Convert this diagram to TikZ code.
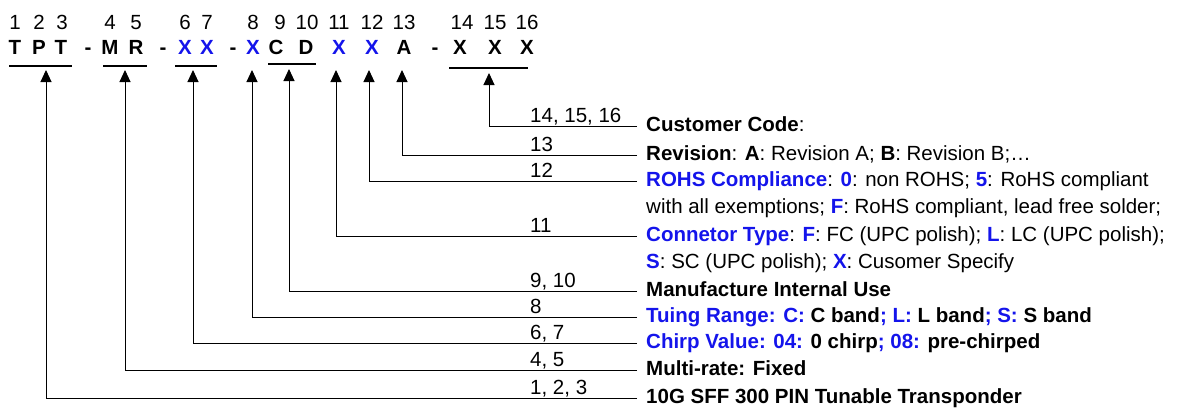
\documentclass[tikz,border=0pt]{standalone}
\usepackage{fontspec}
\setmainfont{Liberation Sans}
\usepackage{xcolor}
\usetikzlibrary{arrows.meta}
\definecolor{code-blue}{RGB}{20,20,235}
\newcommand{\bluebf}[1]{{\color{code-blue}\bfseries #1}}
\tikzset{
    code-num/.style = {inner sep=0pt, text height=14.7pt, text depth=0pt, font=\fontsize{20.5}{24}\selectfont},
    code-letter/.style = {inner sep=0pt, text height=14.7pt, text depth=0pt, font=\fontsize{20.5}{24}\selectfont\bfseries},
    desc-text/.style = {anchor=west, inner xsep=9pt, inner ysep=0pt, text height=14.7pt, text depth=4pt, font=\fontsize{20.5}{24}\selectfont},
    pos-label/.style = {anchor=base west, inner sep=0pt, font=\fontsize{20.5}{24}\selectfont},
    code-bar/.style = {line width=2.6pt},
    pointer/.style = {line width=1pt, -{Triangle[width=11pt,length=12pt]}},
}

\begin{document}
\begin{tikzpicture}[x=1pt, y=-1pt]
\useasboundingbox (0,0) rectangle (1177,407);

% digit positions
\foreach \x/\n in {15/1, 39/2, 62/3, 110/4, 136/5, 185/6, 207/7, 253/8, 280/9, 307/10,
                   339/11, 372/12, 404/13, 462/14, 495/15, 527/16}
    \node[code-num] (n\n) at (\x,22) {\n};

% part number
\foreach \x/\c/\col/\n in {15/T/black/1, 39/P/black/2, 61/T/black/3, 88/-/black/s1,
                           110/M/black/4, 136/R/black/5, 163/-/black/s2,
                           185/X/code-blue/6, 207/X/code-blue/7, 233/-/black/s3,
                           253/X/code-blue/8, 276/C/black/9, 306/D/black/10,
                           339/X/code-blue/11, 372/X/code-blue/12, 404/A/black/13,
                           435/-/black/s4, 460/X/black/14, 495/X/black/15, 527/X/black/16}
    \node[code-letter, text=\col] (c\n) at (\x,47) {\c};

\draw[code-bar] (9,66) -- (72,66);
\draw[code-bar] (103,66) -- (147,66);
\draw[code-bar] (175,66) -- (217,66);
\draw[code-bar] (268,64) -- (316,64);
\draw[code-bar] (449,68) -- (528,68);

\foreach \x/\y/\n in {46/70/tpt, 125/70/rate, 193/70/chirp, 252/70/band, 289/69/cd,
                      336/70/conn, 369/70/rohs, 402/70/rev, 489/73/cust}
    \coordinate (tip-\n) at (\x,\y);

% descriptions
\node[desc-text] (cust) at (637,126) {\textbf{Customer Code}:};
\node[desc-text] (rev) at (637,155) {\textbf{Revision}: \textbf{A}: Revision A; \textbf{B}: Revision B;…};
\node[desc-text] (rohs) at (637,181) {\bluebf{ROHS Compliance}: \bluebf{0}: non ROHS; \bluebf{5}: RoHS compliant};
\node[desc-text] (rohs-2) at ([yshift=-27pt]rohs.west) {with all exemptions; \bluebf{F}: RoHS compliant, lead free solder;};
\node[desc-text] (conn) at (637,236) {\bluebf{Connetor Type}: \bluebf{F}: FC (UPC polish); \bluebf{L}: LC (UPC polish);};
\node[desc-text] (conn-2) at ([yshift=-27pt]conn.west) {\bluebf{S}: SC (UPC polish); \bluebf{X}: Cusomer Specify};
\node[desc-text] (cd) at (637,291) {\textbf{Manufacture Internal Use}};
\node[desc-text] (band) at (637,317) {\bfseries\bluebf{Tuing Range: C:} C band\bluebf{; L:} L band\bluebf{; S:} S band};
\node[desc-text] (chirp) at (637,343) {\bfseries\bluebf{Chirp Value: 04:} 0 chirp\bluebf{; 08:} pre-chirped};
\node[desc-text] (rate) at (637,370) {\textbf{Multi-rate: Fixed}};
\node[desc-text] (tpt) at (637,398) {\textbf{10G SFF 300 PIN Tunable Transponder}};

% position labels
\node[pos-label] at ([xshift=-107pt,yshift=4pt]cust.west) {14, 15, 16};
\node[pos-label] at ([xshift=-107pt,yshift=4pt]rev.west) {13};
\node[pos-label] at ([xshift=-107pt,yshift=4pt]rohs.west) {12};
\node[pos-label] at ([xshift=-107pt,yshift=4pt]conn.west) {11};
\node[pos-label] at ([xshift=-107pt,yshift=4pt]cd.west) {9, 10};
\node[pos-label] at ([xshift=-107pt,yshift=4pt]band.west) {8};
\node[pos-label] at ([xshift=-107pt,yshift=4pt]chirp.west) {6, 7};
\node[pos-label] at ([xshift=-107pt,yshift=4pt]rate.west) {4, 5};
\node[pos-label] at ([xshift=-107pt,yshift=4pt]tpt.west) {1, 2, 3};

% connectors
\foreach \n in {cust, rev, rohs, conn, cd, band, chirp, rate, tpt}
    \draw[pointer] (\n.west) -| (tip-\n);
\end{tikzpicture}
\end{document}
